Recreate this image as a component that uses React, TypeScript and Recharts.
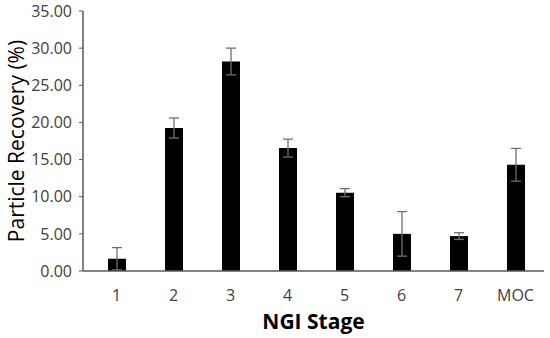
import { BarChart, Bar, XAxis, YAxis, ErrorBar } from 'recharts';

const stages = ['1', '2', '3', '4', '5', '6', '7', 'MOC'];
const recovery = [1.65, 19.25, 28.2, 16.55, 10.55, 5.0, 4.7, 14.3];
const recoveryErr = [1.5, 1.35, 1.8, 1.2, 0.55, 3.0, 0.45, 2.2];
const yTicks = [0, 5, 10, 15, 20, 25, 30, 35];

const data = stages.map((s, i) => ({ stage: s, value: recovery[i], err: recoveryErr[i] }));

const FONT = '"Open Sans", sans-serif';

export default function App() {
    return (
        <div style={{ position: 'absolute', left: 0, top: 0, background: '#fff' }}>
            <BarChart
                width={550}
                height={338}
                data={data}
                margin={{ top: 11, right: 6, bottom: 0, left: 0 }}
            >
                <XAxis
                    dataKey="stage"
                    height={67}
                    padding={{ left: 5, right: 0 }}
                    tickLine={false}
                    axisLine={{ stroke: '#595959', strokeWidth: 1.5 }}
                    tickMargin={13}
                    tick={{ fill: '#404040', fontSize: 16, fontFamily: FONT }}
                    label={{
                        value: 'NGI Stage',
                        position: 'insideBottom',
                        offset: 9,
                        style: { fill: '#000', fontSize: 21, fontWeight: 700, fontFamily: FONT },
                    }}
                />
                <YAxis
                    width={83}
                    domain={[0, 35]}
                    ticks={yTicks}
                    interval={0}
                    tickFormatter={(v: number) => v.toFixed(2)}
                    tickSize={4}
                    tickMargin={7}
                    tickLine={{ stroke: '#595959' }}
                    axisLine={{ stroke: '#595959', strokeWidth: 1.5 }}
                    tick={{ fill: '#404040', fontSize: 16, fontFamily: FONT }}
                    label={{
                        value: 'Particle Recovery (%)',
                        angle: -90,
                        position: 'insideLeft',
                        offset: 17,
                        style: { textAnchor: 'middle', fill: '#000', fontSize: 21, fontWeight: 400, fontFamily: FONT },
                    }}
                />
                <Bar dataKey="value" fill="#000" barSize={18} isAnimationActive={false}>
                    <ErrorBar dataKey="err" width={5} stroke="#6f6f6f" strokeWidth={1.3} />
                </Bar>
            </BarChart>
        </div>
    );
}
